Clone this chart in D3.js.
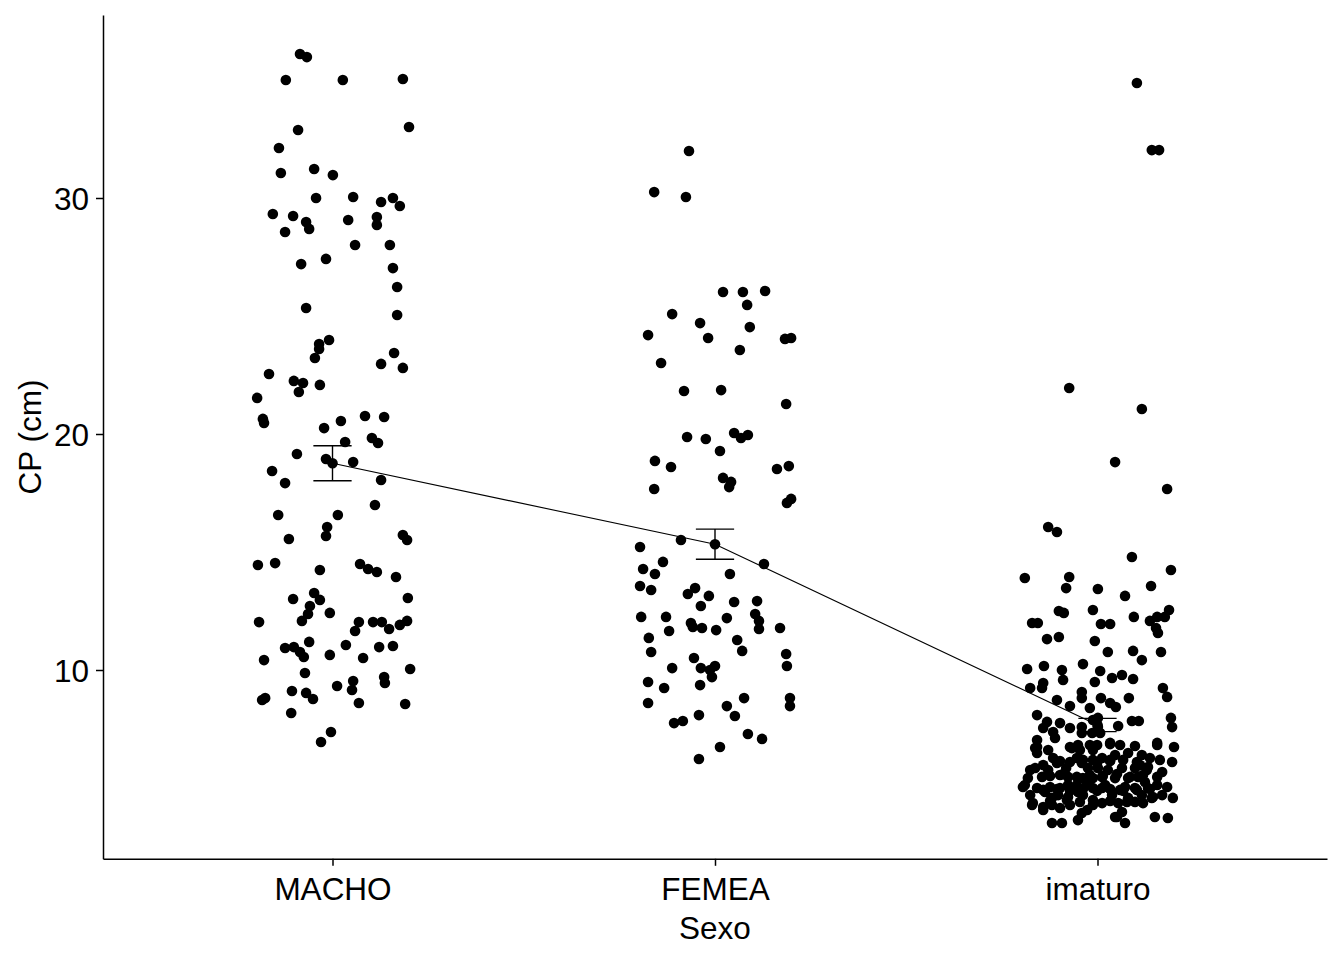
<!DOCTYPE html>
<html>
<head>
<meta charset="utf-8">
<script src="https://cdn.jsdelivr.net/npm/d3@7"></script>
<style>
  body { margin: 0; background: #fff; }
  text { font-family: "Liberation Sans", Arial, sans-serif; }
</style>
</head>
<body>
<div id="chart"></div>
<script>
var width = 1344, height = 960;

// categories on the x axis
var sexo = ["MACHO", "FEMEA", "imaturo"];

// [jitter offset (in category units), CP in cm]
var machoPts = [
  [-0.085,36.10],[-0.067,35.97],[-0.122,35.0],[0.027,35.0],[0.184,35.04],
  [-0.090,32.88],[0.200,33.01],[-0.140,32.12],[-0.135,31.06],[-0.048,31.23],
  [0.001,30.97],[-0.043,30.0],[0.054,30.04],[0.127,29.83],[0.158,30.0],
  [0.176,29.66],[-0.156,29.32],[-0.103,29.24],[-0.069,28.98],[-0.061,28.69],
  [-0.124,28.56],[0.041,29.07],[0.116,29.19],[0.116,28.86],[0.059,28.01],
  [0.150,28.01],[-0.082,27.20],[-0.017,27.42],[0.158,27.03],[0.169,26.23],
  [-0.069,25.34],[0.169,25.04],[-0.009,23.98],[-0.035,23.81],[-0.035,23.60],
  [-0.046,23.22],[0.161,23.43],[0.127,22.97],[0.184,22.80],[-0.166,22.54],
  [-0.101,22.25],[-0.077,22.16],[-0.088,21.78],[-0.033,22.08],[-0.197,21.53],
  [-0.182,20.64],[-0.179,20.47],[-0.022,20.25],[0.022,20.55],[0.085,20.76],
  [0.135,20.72],[0.103,19.83],[0.119,19.62],[0.033,19.66],[-0.093,19.15],
  [-0.017,18.94],[0.054,18.81],[-0.158,18.43],[-0.124,17.92],[0.127,18.05],
  [0.111,16.99],[-0.142,16.57],[0.014,16.57],[-0.014,16.06],[-0.017,15.68],
  [-0.114,15.55],[0.184,15.72],[0.195,15.51],[-0.195,14.45],[-0.150,14.53],
  [-0.033,14.24],[0.072,14.49],[0.093,14.28],[0.116,14.15],[0.166,13.94],
  [-0.103,13.01],[-0.048,13.26],[-0.033,12.97],[-0.059,12.71],[-0.064,12.37],
  [-0.080,12.08],[-0.007,12.42],[0.197,13.05],[-0.192,12.03],[0.069,12.03],
  [0.059,11.65],[0.106,12.03],[0.129,12.03],[0.148,11.74],[0.176,11.91],
  [0.195,12.08],[-0.124,10.93],[-0.101,10.97],[-0.085,10.76],[-0.075,10.55],
  [-0.061,11.19],[-0.007,10.64],[0.035,11.06],[0.080,10.51],[0.122,10.97],
  [0.158,11.02],[-0.179,10.42],[-0.072,9.87],[0.203,10.04],[0.012,9.32],
  [0.054,9.53],[0.051,9.15],[0.135,9.70],[0.137,9.45],[-0.106,9.11],
  [-0.069,9.03],[-0.051,8.77],[-0.184,8.73],[-0.176,8.81],[0.069,8.60],
  [0.190,8.56],[-0.108,8.18],[-0.004,7.37],[-0.030,6.95]
];

var femeaPts = [
  [-0.068,31.99],[-0.159,30.25],[-0.076,30.04],[0.021,26.02],[0.073,26.02],
  [0.131,26.06],[0.084,25.47],[-0.112,25.08],[-0.039,24.70],[0.091,24.53],
  [-0.175,24.19],[-0.018,24.07],[0.183,24.03],[0.199,24.07],[0.065,23.56],
  [-0.141,23.01],[-0.081,21.82],[0.016,21.86],[0.186,21.27],[-0.073,19.87],
  [-0.024,19.79],[0.050,20.04],[0.068,19.83],[0.086,19.96],[0.013,19.28],
  [-0.157,18.86],[-0.115,18.60],[0.162,18.52],[0.193,18.64],[0.021,18.14],
  [0.042,17.97],[0.037,17.75],[-0.159,17.67],[0.199,17.25],[0.188,17.08],
  [-0.089,15.51],[-0.196,15.21],[0.128,14.49],[-0.136,14.58],[-0.188,14.28],
  [-0.157,14.07],[0.039,14.07],[-0.196,13.56],[-0.167,13.39],[-0.052,13.47],
  [-0.071,13.22],[-0.016,13.14],[-0.037,12.71],[0.050,12.88],[0.110,12.92],
  [-0.193,12.25],[-0.128,12.25],[-0.063,11.99],[-0.058,11.82],[-0.034,11.78],
  [0.003,11.69],[0.031,12.20],[0.105,12.37],[0.115,12.08],[0.115,11.74],
  [0.170,11.78],[-0.120,11.65],[-0.173,11.36],[0.058,11.27],[-0.167,10.76],
  [0.071,10.81],[0.186,10.68],[0.188,10.17],[-0.055,10.51],[-0.037,10.08],
  [-0.112,10.08],[0.000,10.17],[-0.013,10.00],[-0.008,9.70],[-0.175,9.49],
  [-0.133,9.24],[-0.039,9.36],[-0.175,8.60],[0.076,8.81],[0.196,8.81],
  [0.196,8.47],[0.031,8.47],[0.052,8.05],[-0.042,8.09],[-0.107,7.75],
  [-0.084,7.84],[0.086,7.29],[0.123,7.08],[0.013,6.74],[-0.042,6.23]
];

var imatPts = [
  [0.103,34.87],[0.142,32.03],[0.161,32.03],[-0.074,21.95],[0.116,21.06],
  [0.046,18.81],[0.182,17.67],[-0.129,16.06],[-0.106,15.85],[0.090,14.79],
  [0.192,14.24],[-0.190,13.90],[-0.074,13.94],[-0.082,13.47],[0.001,13.43],
  [0.140,13.56],[0.072,13.14],[-0.101,12.50],[-0.088,12.42],[-0.012,12.54],
  [0.187,12.54],[-0.171,11.99],[-0.156,11.99],[0.009,11.95],[0.033,11.95],
  [0.095,12.25],[0.137,12.08],[0.156,12.25],[0.176,12.25],[0.153,11.78],
  [0.158,11.57],[-0.132,11.31],[-0.101,11.40],[-0.007,11.23],[0.027,10.76],
  [0.093,10.81],[0.166,10.76],[0.116,10.42],[-0.184,10.04],[-0.140,10.17],
  [-0.093,10.00],[-0.038,10.25],[0.007,9.96],[-0.007,9.49],[-0.090,9.58],
  [-0.142,9.45],[-0.145,9.24],[-0.176,9.24],[-0.041,9.07],[-0.041,8.81],
  [0.009,8.81],[-0.106,8.73],[-0.072,8.47],[-0.020,8.39],[-0.158,8.09],
  [-0.132,7.80],[-0.098,7.75],[-0.142,7.54],[-0.116,7.37],[-0.072,7.54],
  [-0.041,7.58],[-0.041,7.33],[-0.012,7.88],[-0.014,7.33],[-0.158,7.03],
  [-0.111,7.12],[-0.051,6.82],[-0.072,6.74],[-0.020,6.82],[-0.158,6.74],
  [0.038,9.66],[0.064,9.79],[0.093,9.62],[0.171,9.24],[0.182,8.86],
  [0.033,8.60],[0.048,8.43],[0.082,8.81],[0.001,7.97],[0.001,7.58],
  [0.007,7.33],[0.054,7.63],[0.090,7.84],[0.108,7.84],[0.192,7.97],
  [0.195,7.58],[0.033,6.86],[0.059,6.82],[0.098,6.78],[0.156,6.82],
  [0.200,6.74],[-0.001,6.82],[-0.163,6.69],[-0.129,6.61],[-0.067,6.69],
  [-0.012,6.61],[-0.012,6.19],[-0.054,6.27],[-0.041,6.06],[-0.116,6.27],
  [-0.106,6.06],[-0.163,5.85],[-0.142,5.97],[-0.182,5.42],[-0.145,5.47],
  [-0.098,5.55],[-0.077,5.47],[-0.038,5.42],[-0.012,5.42],[-0.195,5.04],
  [-0.158,5.00],[-0.124,5.04],[-0.098,5.00],[-0.077,5.13],[-0.054,5.13],
  [-0.027,5.21],[-0.012,5.00],[-0.103,4.70],[-0.119,4.58],[-0.051,4.83],
  [-0.038,4.70],[-0.169,4.36],[-0.142,4.19],[-0.119,4.28],[-0.098,4.15],
  [-0.072,4.28],[-0.012,4.49],[-0.041,3.94],[-0.027,4.07],[-0.119,3.52],
  [-0.093,3.52],[-0.051,3.64],[-0.129,5.76],[-0.082,5.85],[-0.025,5.85],
  [-0.176,4.70],[-0.077,4.62],[-0.137,4.83],
  [0.012,6.27],[0.046,6.40],[0.080,6.48],[0.116,6.40],[0.163,6.19],
  [0.195,6.10],[0.001,5.85],[0.027,5.76],[0.064,5.85],[0.098,5.85],
  [0.132,5.89],[0.169,5.68],[0.012,5.47],[0.046,5.42],[0.080,5.42],
  [0.106,5.47],[0.124,5.25],[0.020,5.13],[0.012,5.00],[0.072,5.04],
  [0.098,5.00],[0.132,5.00],[0.156,5.13],[0.182,5.04],[0.197,4.58],
  [0.080,4.58],[0.116,4.70],[0.142,4.58],[0.169,4.70],[0.054,4.36],
  [0.098,4.41],[0.064,3.98],[0.046,3.77],[0.072,3.52],[0.150,3.77],
  [0.184,3.73],[0.012,4.36],[0.038,4.70],[0.033,6.19],[0.111,5.97],
  [0.059,4.92],
  [0.156,6.91],[0.137,6.27],[0.129,5.76],[-0.190,5.13],[-0.176,5.76],
  [-0.158,6.48],[-0.171,4.28],[-0.142,4.07],[0.051,3.77],[0.119,4.36],
  [0.145,4.62],[0.033,6.91],[-0.046,6.61],
  [-0.098,6.14],[-0.072,6.10],[-0.038,6.19],[-0.001,6.06],[0.033,6.14],
  [0.067,6.19],[0.103,6.10],
  [-0.124,5.51],[-0.090,5.59],[-0.054,5.47],[-0.020,5.55],[0.014,5.51],
  [0.051,5.59],[0.085,5.47],[0.119,5.55],[0.156,5.47],
  [-0.142,4.92],[-0.106,4.96],[-0.072,4.88],[-0.038,4.96],[-0.001,4.88],
  [0.033,4.96],[0.067,4.88],[0.103,4.92],[0.137,4.96],
  [-0.124,4.45],[-0.080,4.49],[-0.046,4.41],[-0.012,4.28],[0.033,4.45],
  [0.077,4.41]
];

// mean and mean +/- standard error per group
var meanCP = [18.76, 15.33, 7.67];
var seLow  = [18.02, 14.69, 7.39];
var seHigh = [19.50, 15.97, 7.95];

var yTicks = [10, 20, 30];

var svg = d3.select("#chart").append("svg")
    .attr("width", width)
    .attr("height", height);

svg.append("rect").attr("width", width).attr("height", height).attr("fill", "#fff");

// discrete positions 1..3 with ggplot's 0.6 expansion
var x = d3.scaleLinear().domain([0.4, 3.6]).range([103, 1327]);
var y = d3.scaleLinear().domain([2, 37.75]).range([858.8, 15.1]);

var groups = [machoPts, femeaPts, imatPts];
var points = [];
groups.forEach(function(g, i) {
  g.forEach(function(p) { points.push({pos: i + 1 + p[0], cp: p[1]}); });
});

// jittered points
svg.append("g")
  .selectAll("circle")
  .data(points)
  .enter()
  .append("circle")
  .attr("cx", function(d) { return x(d.pos); })
  .attr("cy", function(d) { return y(d.cp); })
  .attr("r", 5.3)
  .attr("fill", "#000");

var summary = sexo.map(function(s, i) {
  return {pos: i + 1, mean: meanCP[i], lo: seLow[i], hi: seHigh[i]};
});

// line joining means
svg.append("path")
  .datum(summary)
  .attr("fill", "none")
  .attr("stroke", "#000")
  .attr("stroke-width", 1.1)
  .attr("d", d3.line()
      .x(function(d) { return x(d.pos); })
      .y(function(d) { return y(d.mean); }));

// error bars (width 0.1)
var eb = svg.append("g")
  .attr("stroke", "#000")
  .attr("stroke-width", 1.4)
  .selectAll("g")
  .data(summary)
  .enter()
  .append("g");

eb.append("line")
  .attr("x1", function(d) { return x(d.pos); })
  .attr("x2", function(d) { return x(d.pos); })
  .attr("y1", function(d) { return y(d.lo); })
  .attr("y2", function(d) { return y(d.hi); });
eb.append("line")
  .attr("x1", function(d) { return x(d.pos - 0.05); })
  .attr("x2", function(d) { return x(d.pos + 0.05); })
  .attr("y1", function(d) { return y(d.lo); })
  .attr("y2", function(d) { return y(d.lo); });
eb.append("line")
  .attr("x1", function(d) { return x(d.pos - 0.05); })
  .attr("x2", function(d) { return x(d.pos + 0.05); })
  .attr("y1", function(d) { return y(d.hi); })
  .attr("y2", function(d) { return y(d.hi); });

// mean points
svg.append("g")
  .selectAll("circle")
  .data(summary)
  .enter()
  .append("circle")
  .attr("cx", function(d) { return x(d.pos); })
  .attr("cy", function(d) { return y(d.mean); })
  .attr("r", 5.3)
  .attr("fill", "#000");

// axes
var xAxis = svg.append("g")
  .attr("transform", "translate(0," + y.range()[0] + ")")
  .call(d3.axisBottom(x)
      .tickValues([1, 2, 3])
      .tickFormat(function(d) { return sexo[d - 1]; })
      .tickSize(7)
      .tickSizeOuter(0));

var yAxis = svg.append("g")
  .attr("transform", "translate(" + x.range()[0] + ",0)")
  .call(d3.axisLeft(y)
      .tickValues(yTicks)
      .tickSize(7)
      .tickSizeOuter(0));

[xAxis, yAxis].forEach(function(a) {
  a.select(".domain").attr("stroke", "#000").attr("stroke-width", 1.5);
  a.selectAll(".tick line").attr("stroke", "#000").attr("stroke-width", 1.5);
  a.selectAll(".tick text")
    .attr("fill", "#000")
    .attr("font-size", "31.5px")
    .attr("font-family", "Liberation Sans, Arial, sans-serif");
});
xAxis.selectAll(".tick text").attr("dy", null).attr("y", 41);
yAxis.selectAll(".tick text").attr("dy", "0.36em").attr("x", -14);

// axis titles
svg.append("text")
  .attr("x", x(2))
  .attr("y", 939)
  .attr("text-anchor", "middle")
  .attr("font-size", "31.5px")
  .attr("fill", "#000")
  .text("Sexo");

svg.append("text")
  .attr("transform", "translate(41,437) rotate(-90)")
  .attr("text-anchor", "middle")
  .attr("font-size", "31.5px")
  .attr("fill", "#000")
  .text("CP (cm)");
</script>
</body>
</html>
